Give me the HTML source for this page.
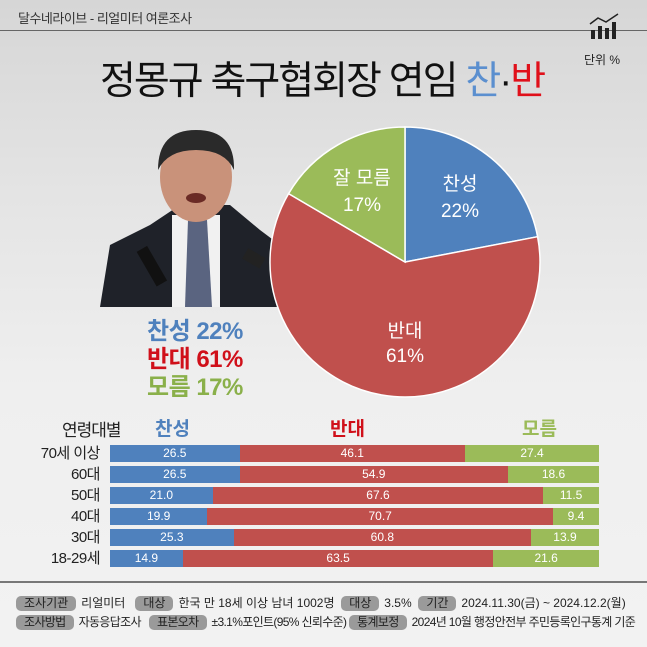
<!DOCTYPE html>
<html><head><meta charset="utf-8"><style>
*{margin:0;padding:0;box-sizing:border-box}
body{width:647px;height:647px;overflow:hidden;font-family:"Liberation Sans","Noto Sans CJK KR",sans-serif;background:linear-gradient(#d6d6d6 0%,#e4e4e4 30%,#efefef 60%,#f2f2f2 100%);position:relative}
.a{position:absolute;white-space:nowrap}
.pill{display:inline-block;background:#9a9a9a;border-radius:5px;padding:0 8px;height:15px;line-height:15px;color:#222;margin-right:5px}
.row{position:absolute;left:110px;width:489px;height:17px;display:flex;color:#fff;font-size:12px;line-height:17px;text-align:center}
.b{background:#4f81bd}.r{background:#c0504d}.g{background:#9bbb59}
.lab{position:absolute;width:100px;text-align:right;left:0;font-size:15px;color:#222;line-height:17px;letter-spacing:-0.5px}
</style></head><body>
<div class="a" style="left:18px;top:8px;font-size:13px;color:#333;letter-spacing:-0.5px">달수네라이브 - 리얼미터 여론조사</div>
<div style="position:absolute;left:0;top:30px;width:647px;height:1px;background:#666"></div>
<svg class="a" style="left:588px;top:12px" width="34" height="28"><polyline points="2,12 10,6 18,10 30,2" fill="none" stroke="#222" stroke-width="1.5"/><rect x="3" y="18" width="4" height="9" fill="#222"/><rect x="10" y="14" width="4" height="13" fill="#222"/><rect x="17" y="16" width="4" height="11" fill="#222"/><rect x="24" y="10" width="4" height="17" fill="#222"/></svg>
<div class="a" style="left:584px;top:51px;font-size:12px;color:#222">단위 %</div>
<div class="a" style="left:100px;top:50px;font-size:39px;color:#111;letter-spacing:-2px">정몽규 축구협회장 연임 <span style="color:#5b8fcf">찬</span>·<span style="color:#e0101a">반</span></div>
<!-- photo -->
<svg class="a" style="left:100px;top:125px" width="180" height="182">
<path d="M0,182 L10,120 L50,100 L80,80 L130,80 L160,105 L180,120 L180,182 Z" fill="#1f2229"/>
<path d="M72,90 L120,90 L120,182 L72,182Z" fill="#f1f1f1"/>
<path d="M88,95 L107,95 L112,182 L85,182Z" fill="#5a6480"/>
<ellipse cx="96" cy="52" rx="36" ry="45" fill="#c9927a"/>
<path d="M58,45 Q58,5 96,5 Q135,5 134,45 Q125,25 96,25 Q68,25 58,45Z" fill="#2a2a2a"/>
<ellipse cx="96" cy="73" rx="10" ry="5" fill="#6a2a25"/>
<rect x="45" y="122" width="12" height="40" fill="#111" transform="rotate(-30 50 140)"/>
<rect x="145" y="125" width="20" height="12" fill="#222" transform="rotate(30 150 130)"/>
</svg>
<div class="a" style="left:147px;top:318px;font-size:24px;font-weight:bold;line-height:28px;color:#4f81bd;letter-spacing:-0.5px">찬성 22%</div>
<div class="a" style="left:147px;top:346px;font-size:24px;font-weight:bold;line-height:28px;color:#d0101a;letter-spacing:-0.5px">반대 61%</div>
<div class="a" style="left:147px;top:374px;font-size:24px;font-weight:bold;line-height:28px;color:#8ab04a;letter-spacing:-0.5px">모름 17%</div>
<!-- pie -->
<svg class="a" style="left:265px;top:122px" width="280" height="280">
<g transform="translate(140,140)" stroke="#fff" stroke-width="1.5">
<path d="M0,0 L0,-135 A135,135 0 0 1 132.6,-25.3 Z" fill="#4f81bd"/>
<path d="M0,0 L132.6,-25.3 A135,135 0 1 1 -116.4,-68.4 Z" fill="#c0504d"/>
<path d="M0,0 L-116.4,-68.4 A135,135 0 0 1 0,-135 Z" fill="#9bbb59"/>
</g>
<g font-size="19" fill="#fff" text-anchor="middle" font-family="Liberation Sans,Noto Sans CJK KR,sans-serif">
<text x="195" y="68">찬성</text><text x="195" y="95">22%</text>
<text x="97" y="62">잘 모름</text><text x="97" y="89">17%</text>
<text x="140" y="215">반대</text><text x="140" y="240">61%</text>
</g></svg>
<!-- bars -->
<div class="a" style="left:62px;top:416px;font-size:17px;color:#222;letter-spacing:-1px">연령대별</div>
<div class="a" style="left:155px;top:414px;font-size:19px;font-weight:bold;color:#4f81bd">찬성</div>
<div class="a" style="left:330px;top:414px;font-size:19px;font-weight:bold;color:#d0101a">반대</div>
<div class="a" style="left:522px;top:414px;font-size:19px;font-weight:bold;color:#9bbb59">모름</div>
<div class="lab" style="top:445px">70세 이상</div>
<div class="row" style="top:445px"><div class="b" style="width:26.5%">26.5</div><div class="r" style="width:46.1%">46.1</div><div class="g" style="width:27.4%">27.4</div></div>
<div class="lab" style="top:466px">60대</div>
<div class="row" style="top:466px"><div class="b" style="width:26.5%">26.5</div><div class="r" style="width:54.9%">54.9</div><div class="g" style="width:18.6%">18.6</div></div>
<div class="lab" style="top:487px">50대</div>
<div class="row" style="top:487px"><div class="b" style="width:21%">21.0</div><div class="r" style="width:67.6%">67.6</div><div class="g" style="width:11.4%">11.5</div></div>
<div class="lab" style="top:508px">40대</div>
<div class="row" style="top:508px"><div class="b" style="width:19.9%">19.9</div><div class="r" style="width:70.7%">70.7</div><div class="g" style="width:9.4%">9.4</div></div>
<div class="lab" style="top:529px">30대</div>
<div class="row" style="top:529px"><div class="b" style="width:25.3%">25.3</div><div class="r" style="width:60.8%">60.8</div><div class="g" style="width:13.9%">13.9</div></div>
<div class="lab" style="top:550px">18-29세</div>
<div class="row" style="top:550px"><div class="b" style="width:14.9%">14.9</div><div class="r" style="width:63.5%">63.5</div><div class="g" style="width:21.6%">21.6</div></div>
<!-- footer -->
<div style="position:absolute;left:0;top:581px;width:647px;height:2px;background:#777"></div>
<div class="a" style="left:16px;top:596px;font-size:12px;color:#222;line-height:15px;letter-spacing:0px"><span class="pill">조사기관</span>리얼미터 &nbsp;&nbsp;<span class="pill">대상</span>한국 만 18세 이상 남녀 1002명 &nbsp;<span class="pill">대상</span>3.5% &nbsp;<span class="pill">기간</span>2024.11.30(금) ~ 2024.12.2(월)</div>
<div class="a" style="left:16px;top:615px;font-size:12px;color:#222;line-height:15px;letter-spacing:-0.65px"><span class="pill">조사방법</span>자동응답조사 &nbsp;&nbsp;<span class="pill">표본오차</span>±3.1%포인트(95% 신뢰수준) <span class="pill">통계보정</span>2024년 10월 행정안전부 주민등록인구통계 기준</div>
</body></html>
